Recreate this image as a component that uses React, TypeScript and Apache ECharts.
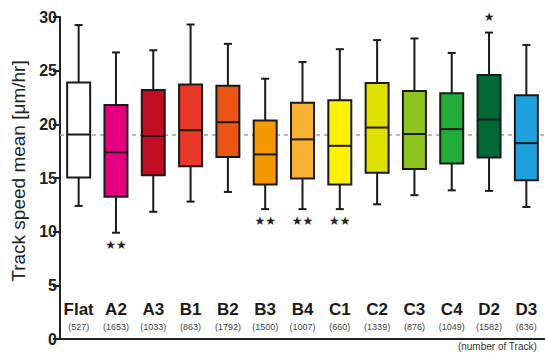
import React, { useEffect, useRef } from "react";
import * as echarts from "echarts";

const categories = ["Flat", "A2", "A3", "B1", "B2", "B3", "B4", "C1", "C2", "C3", "C4", "D2", "D3"];
const trackCounts = [527, 1653, 1033, 863, 1792, 1500, 1007, 660, 1339, 876, 1049, 1582, 636];
const whiskerLow = [12.4, 9.9, 11.85, 12.8, 13.7, 12.1, 12.1, 12.1, 12.55, 13.4, 13.85, 13.8, 12.3];
const quartile1 = [15.05, 13.25, 15.25, 16.1, 16.95, 14.4, 14.95, 14.4, 15.5, 15.85, 16.35, 16.9, 14.8];
const medians = [19.05, 17.4, 18.9, 19.45, 20.2, 17.2, 18.6, 18.0, 19.7, 19.1, 19.55, 20.45, 18.25];
const quartile3 = [23.9, 21.8, 23.2, 23.7, 23.6, 20.35, 22.0, 22.25, 23.85, 23.1, 22.9, 24.6, 22.7];
const whiskerHigh = [29.25, 26.7, 26.9, 29.3, 27.5, 24.25, 25.8, 27.0, 27.85, 28.0, 26.65, 28.55, 27.4];
const significance = ["", "**", "", "", "", "**", "**", "**", "", "", "", "*", ""];
const significanceSide = ["", "below", "", "", "", "below", "below", "below", "", "", "", "above", ""];
const referenceValue = 19.06;
const yTicks = [0, 5, 10, 15, 20, 25, 30];

const boxColors = [
  "#ffffff", "#e4007f", "#c30d23", "#e83828", "#ea5514", "#f39800", "#f8b133",
  "#fff100", "#dde000", "#8fc31f", "#22ac38", "#006934", "#1ea0dc",
];

const FONT = "'Liberation Sans', Arial, Helvetica, sans-serif";

export default function App() {
  const ref = useRef<HTMLDivElement>(null);
  useEffect(() => {
    if (!ref.current) return;
    const chart = echarts.init(ref.current, undefined, { renderer: "svg" });
    const boxData = categories.map((_, i) => [
      i, whiskerLow[i], quartile1[i], medians[i], quartile3[i], whiskerHigh[i],
    ]);
    chart.setOption({
      animation: false,
      backgroundColor: "#ffffff",
      grid: { left: 60, right: -9, top: 17, bottom: 14, containLabel: false },
      xAxis: {
        type: "category",
        data: categories,
        boundaryGap: true,
        axisLine: { show: true, lineStyle: { color: "#222", width: 2 } },
        axisTick: { show: false },
        axisLabel: {
          margin: -40,
          interval: 0,
          formatter: (v: string, idx: number) => `{n|${v}}\n{c|(${trackCounts[idx]})}`,
          rich: {
            n: { fontSize: 17, fontWeight: "bold", fontFamily: FONT, color: "#1a1a1a", lineHeight: 20 },
            c: { fontSize: 9, fontFamily: FONT, color: "#444", lineHeight: 16 },
          },
        },
        splitLine: { show: false },
      },
      yAxis: {
        type: "value",
        min: yTicks[0],
        max: yTicks[yTicks.length - 1],
        interval: 5,
        name: "Track speed mean [μm/hr]",
        nameLocation: "middle",
        nameRotate: 90,
        nameGap: 31,
        nameTextStyle: { fontSize: 19, fontFamily: FONT, color: "#222", padding: [0, 0, 0, 14] },
        axisLine: { show: true, lineStyle: { color: "#222", width: 2 } },
        axisTick: { show: true, length: 7, lineStyle: { color: "#222", width: 2 } },
        axisLabel: { fontSize: 16, fontWeight: "bold", fontFamily: FONT, color: "#222", margin: 3 },
        splitLine: { show: false },
      },
      series: [
        {
          type: "line",
          data: [],
          z: 1,
          silent: true,
          markLine: {
            z: 1,
            silent: true,
            symbol: "none",
            label: { show: false },
            lineStyle: { color: "#a0a0a0", type: [4, 4], width: 1.5 },
            data: [{ yAxis: referenceValue }],
          },
        },
        {
          type: "custom",
          z: 10,
          data: boxData,
          encode: { x: 0, y: [1, 2, 3, 4, 5] },
          renderItem: (params: any, api: any) => {
            const i = params.dataIndex;
            const idx = api.value(0);
            const [cx, yMin] = api.coord([idx, api.value(1)]);
            const yQ1 = api.coord([idx, api.value(2)])[1];
            const yMed = api.coord([idx, api.value(3)])[1];
            const yQ3 = api.coord([idx, api.value(4)])[1];
            const yMax = api.coord([idx, api.value(5)])[1];
            const half = 11.5;
            const cap = 4;
            const stroke = { stroke: "#1a1a1a", lineWidth: 2 };
            const children: any[] = [
              { type: "line", shape: { x1: cx, y1: yMax, x2: cx, y2: yQ3 }, style: stroke },
              { type: "line", shape: { x1: cx, y1: yQ1, x2: cx, y2: yMin }, style: stroke },
              { type: "line", shape: { x1: cx - cap, y1: yMax, x2: cx + cap, y2: yMax }, style: stroke },
              { type: "line", shape: { x1: cx - cap, y1: yMin, x2: cx + cap, y2: yMin }, style: stroke },
              {
                type: "rect",
                shape: { x: cx - half, y: yQ3, width: half * 2, height: yQ1 - yQ3 },
                style: { fill: boxColors[i], stroke: "#1a1a1a", lineWidth: 2 },
              },
              { type: "line", shape: { x1: cx - half, y1: yMed, x2: cx + half, y2: yMed }, style: stroke },
            ];
            if (significance[i]) {
              const below = significanceSide[i] === "below";
              children.push({
                type: "text",
                style: {
                  text: significance[i].replace(/\*/g, "★"),
                  x: cx,
                  y: below ? yMin + 12 : yMax - 16,
                  align: "center",
                  verticalAlign: "middle",
                  fontSize: 12,
                  fontFamily: "'DejaVu Sans', sans-serif",
                  fill: "#222",
                },
              });
            }
            return { type: "group", children };
          },
        },
      ],
      graphic: [
        {
          type: "text",
          right: 8,
          top: 341,
          style: { text: "(number of Track)", fontSize: 10, fontFamily: FONT, fill: "#333" },
        },
      ],
    });
    return () => chart.dispose();
  }, []);
  return (
    <div
      ref={ref}
      style={{ position: "fixed", left: 0, top: 0, width: 545, height: 353 }}
    />
  );
}
